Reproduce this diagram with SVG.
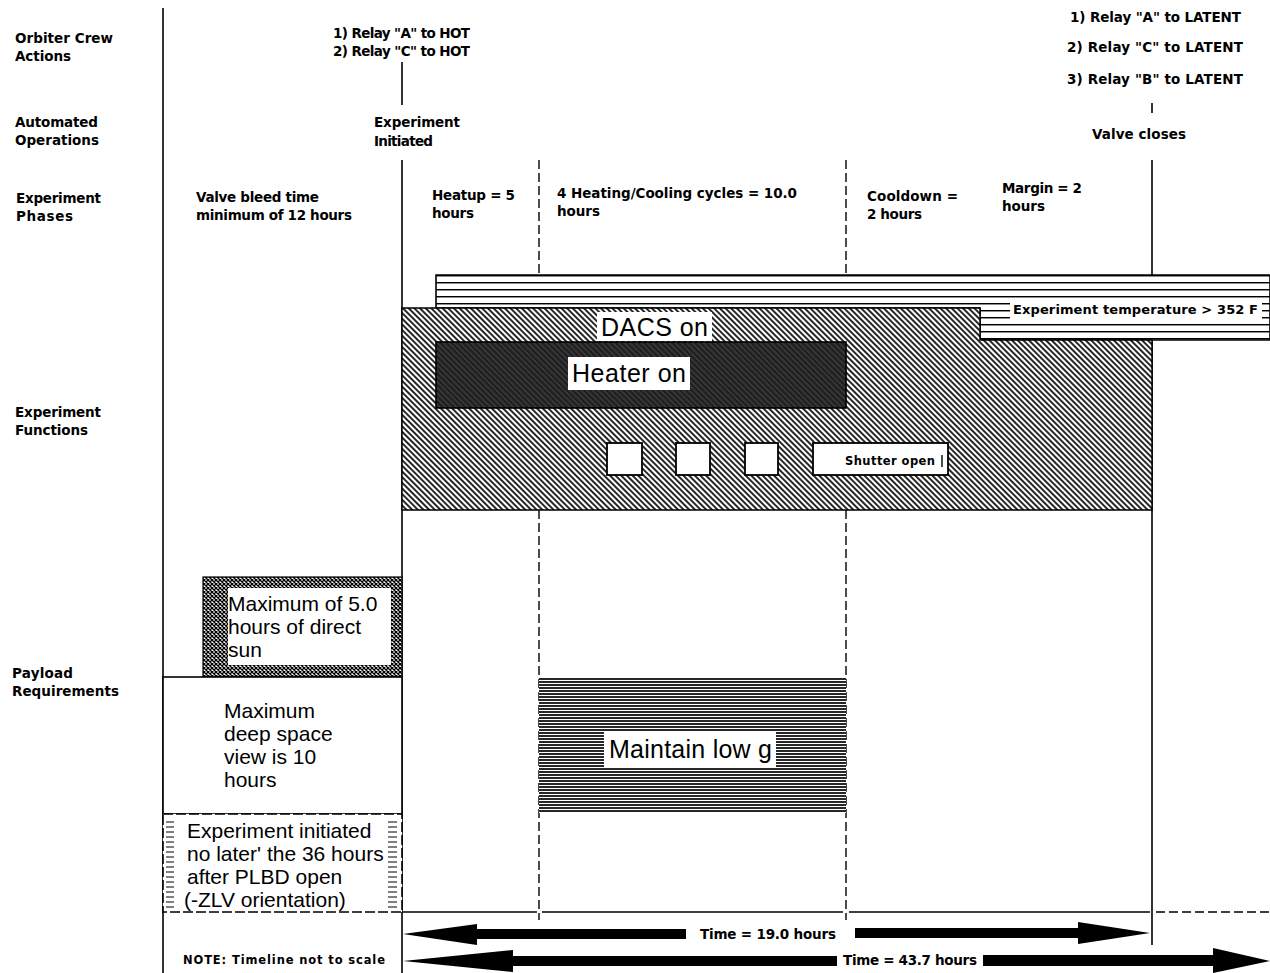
<svg xmlns="http://www.w3.org/2000/svg" width="1270" height="973" viewBox="0 0 1270 973">
<style>
.lbl{font-family:"DejaVu Sans","Liberation Sans",Arial,sans-serif;font-weight:bold;font-size:13.5px;fill:#000}
.sm{font-family:"DejaVu Sans","Liberation Sans",Arial,sans-serif;font-weight:bold;font-size:13.5px;fill:#000}
.big{font-family:"Liberation Sans",Arial,sans-serif;font-size:25px;fill:#000}
.mid{font-family:"Liberation Sans",Arial,sans-serif;font-size:21px;fill:#000}
.ln{stroke:#000;stroke-width:1.6;fill:none}
.dash{stroke:#000;stroke-width:1.4;fill:none;stroke-dasharray:9 4}
</style>
<defs>
<pattern id="diag" patternUnits="userSpaceOnUse" width="4" height="4" patternTransform="rotate(45)"><rect width="4" height="4" fill="#fff"/><line x1="0" y1="1" x2="4" y2="1" stroke="#000" stroke-width="1.7"/></pattern>
<pattern id="dark" patternUnits="userSpaceOnUse" width="4" height="4" patternTransform="rotate(45)"><rect width="4" height="4" fill="#1e1e1e"/><line x1="0" y1="1" x2="4" y2="1" stroke="#555" stroke-width="0.9"/></pattern>
<pattern id="hstripe" patternUnits="userSpaceOnUse" x="0" y="275" width="10" height="7"><rect width="10" height="7" fill="#fff"/><line x1="0" y1="0.7" x2="10" y2="0.7" stroke="#000" stroke-width="1.5"/></pattern>
<pattern id="dense" patternUnits="userSpaceOnUse" width="10" height="3"><rect width="10" height="3" fill="#fff"/><line x1="0" y1="1" x2="10" y2="1" stroke="#000" stroke-width="1.7"/></pattern>
<pattern id="check" patternUnits="userSpaceOnUse" width="4" height="4"><rect width="4" height="4" fill="#fff"/><path d="M0 0L4 4M4 0L0 4" stroke="#000" stroke-width="1.3"/></pattern>
<pattern id="edge" patternUnits="userSpaceOnUse" width="8" height="5"><line x1="0" y1="2" x2="8" y2="2" stroke="#000" stroke-width="1"/></pattern>
</defs>

<g id="row-labels">
<text class="lbl" x="15" y="43" textLength="98" lengthAdjust="spacing">Orbiter Crew</text>
<text class="lbl" x="15" y="61" textLength="56" lengthAdjust="spacing">Actions</text>
<text class="lbl" x="15" y="127" textLength="83" lengthAdjust="spacing">Automated</text>
<text class="lbl" x="15" y="145" textLength="84" lengthAdjust="spacing">Operations</text>
<text class="lbl" x="16" y="203" textLength="85" lengthAdjust="spacing">Experiment</text>
<text class="lbl" x="16" y="221" textLength="57" lengthAdjust="spacing">Phases</text>
<text class="lbl" x="15" y="417" textLength="86" lengthAdjust="spacing">Experiment</text>
<text class="lbl" x="15" y="435" textLength="73" lengthAdjust="spacing">Functions</text>
<text class="lbl" x="12" y="678" textLength="61" lengthAdjust="spacing">Payload</text>
<text class="lbl" x="12" y="696" textLength="107" lengthAdjust="spacing">Requirements</text>
</g>

<g id="crew-actions">
<text class="lbl" x="333" y="38" textLength="137" lengthAdjust="spacing">1) Relay "A" to HOT</text>
<text class="lbl" x="333" y="56" textLength="137" lengthAdjust="spacing">2) Relay "C" to HOT</text>
<text class="sm" x="1070" y="22" textLength="171" lengthAdjust="spacing">1) Relay "A" to LATENT</text>
<text class="sm" x="1067" y="52" textLength="176" lengthAdjust="spacing">2) Relay "C" to LATENT</text>
<text class="sm" x="1067" y="84" textLength="176" lengthAdjust="spacing">3) Relay "B" to LATENT</text>
</g>

<g id="automated">
<text class="lbl" x="374" y="127" textLength="86" lengthAdjust="spacing">Experiment</text>
<text class="lbl" x="374" y="146" textLength="59" lengthAdjust="spacing">Initiated</text>
<text class="lbl" x="1092" y="139" textLength="94" lengthAdjust="spacing">Valve closes</text>
</g>

<g id="phases">
<text class="lbl" x="196" y="202" textLength="123" lengthAdjust="spacing">Valve bleed time</text>
<text class="lbl" x="196" y="220" textLength="156" lengthAdjust="spacing">minimum of 12 hours</text>
<text class="lbl" x="432" y="200" textLength="83" lengthAdjust="spacing">Heatup = 5</text>
<text class="lbl" x="432" y="218" textLength="42" lengthAdjust="spacing">hours</text>
<text class="lbl" x="557" y="198" textLength="240" lengthAdjust="spacing">4 Heating/Cooling cycles = 10.0</text>
<text class="lbl" x="557" y="216" textLength="43" lengthAdjust="spacing">hours</text>
<text class="lbl" x="867" y="201" textLength="91" lengthAdjust="spacing">Cooldown =</text>
<text class="lbl" x="867" y="219" textLength="55" lengthAdjust="spacing">2 hours</text>
<text class="lbl" x="1002" y="193" textLength="80" lengthAdjust="spacing">Margin = 2</text>
<text class="lbl" x="1002" y="211" textLength="43" lengthAdjust="spacing">hours</text>
</g>

<g id="connectors">
<line class="ln" x1="163" y1="8" x2="163" y2="973"/>
<line class="ln" x1="402" y1="62" x2="402" y2="105"/>
<line class="ln" x1="402" y1="160" x2="402" y2="973"/>
<line class="dash" x1="539" y1="160" x2="539" y2="275"/>
<line class="dash" x1="539" y1="510" x2="539" y2="920"/>
<line class="dash" x1="846" y1="160" x2="846" y2="275"/>
<line class="dash" x1="846" y1="510" x2="846" y2="920"/>
<line class="ln" x1="1152" y1="160" x2="1152" y2="275"/>
<line class="ln" x1="1152" y1="340" x2="1152" y2="945"/>
<line class="ln" x1="1152" y1="103" x2="1152" y2="113"/>
<line class="ln" x1="402" y1="912" x2="537" y2="912"/>
<line class="ln" x1="542" y1="912" x2="843" y2="912"/>
<line class="ln" x1="849" y1="912" x2="1150" y2="912"/>
<line class="dash" x1="1156" y1="912" x2="1270" y2="912"/>
</g>

<g id="temperature">
<path d="M436 275H1270V340H980V308H436Z" fill="url(#hstripe)" stroke="#000" stroke-width="1.6"/>
<rect x="1010" y="300" width="252" height="19" fill="#fff"/>
<text class="sm" x="1013" y="314" style="font-size:13px" textLength="245" lengthAdjust="spacing">Experiment temperature  &gt; 352 F</text>
</g>

<g id="dacs">
<path d="M402 308H980V340H1152V510H402Z" fill="url(#diag)" stroke="#000" stroke-width="1.4"/>
<rect x="597" y="312" width="115" height="29" fill="#fff"/>
<text class="big" x="601" y="336" textLength="107" lengthAdjust="spacing">DACS on</text>
</g>

<g id="heater">
<rect x="436" y="342" width="410" height="66" fill="url(#dark)" stroke="#000" stroke-width="1.6"/>
<rect x="568" y="357" width="122" height="33" fill="#fff"/>
<text class="big" x="572" y="382" textLength="114" lengthAdjust="spacing">Heater on</text>
</g>

<g id="shutter">
<rect x="607" y="443" width="35" height="32" fill="#fff" stroke="#000" stroke-width="1.8"/>
<rect x="676" y="443" width="34" height="32" fill="#fff" stroke="#000" stroke-width="1.8"/>
<rect x="745" y="443" width="33" height="32" fill="#fff" stroke="#000" stroke-width="1.8"/>
<rect x="813" y="443" width="135" height="32" fill="#fff" stroke="#000" stroke-width="1.8"/>
<text class="sm" x="845" y="465" style="font-size:11.5px" textLength="90" lengthAdjust="spacing">Shutter open</text>
<line x1="942" y1="455" x2="942" y2="467" stroke="#000" stroke-width="1.4"/>
</g>

<g id="direct-sun">
<rect x="203" y="577" width="199" height="100" fill="url(#check)" stroke="#000" stroke-width="1.2"/>
<rect x="228" y="588" width="163" height="77" fill="#fff"/>
<text class="mid" x="228" y="611">Maximum of 5.0</text>
<text class="mid" x="228" y="634">hours of direct</text>
<text class="mid" x="228" y="657">sun</text>
</g>

<g id="deep-space">
<rect x="163" y="677" width="239" height="137" fill="#fff" stroke="#000" stroke-width="1.6"/>
<text class="mid" x="224" y="718">Maximum</text>
<text class="mid" x="224" y="741">deep space</text>
<text class="mid" x="224" y="764">view is 10</text>
<text class="mid" x="224" y="787">hours</text>
</g>

<g id="initiated-limit">
<rect x="163" y="814" width="239" height="98" fill="#fff" stroke="#000" stroke-width="1.6" stroke-dasharray="10 3"/>
<rect x="166" y="820" width="8" height="88" fill="url(#edge)"/>
<rect x="388" y="820" width="9" height="88" fill="url(#edge)"/>
<text class="mid" x="187" y="838">Experiment initiated</text>
<text class="mid" x="187" y="861">no later' the 36 hours</text>
<text class="mid" x="187" y="884">after PLBD open</text>
<text class="mid" x="184" y="907">(-ZLV orientation)</text>
</g>

<g id="low-g">
<rect x="539" y="677" width="307" height="136" fill="url(#dense)"/>
<rect x="604" y="732" width="172" height="35" fill="#fff"/>
<text class="big" x="609" y="758" textLength="163" lengthAdjust="spacing">Maintain low g</text>
</g>

<g id="time-19">
<path d="M403 934L477 924V929H686V939H477V945Z" fill="#000"/>
<path d="M855 928H1078V922L1150 933L1078 944V938H855Z" fill="#000"/>
<text class="sm" x="700" y="939" textLength="136" lengthAdjust="spacing">Time = 19.0 hours</text>
</g>

<g id="time-43">
<path d="M403 961L513 950V956H837V966H513V972Z" fill="#000"/>
<path d="M983 955H1213V948L1270 961L1213 973V966H983Z" fill="#000"/>
<text class="sm" x="843" y="965" textLength="134" lengthAdjust="spacing">Time = 43.7 hours</text>
</g>

<g id="note">
<text class="sm" x="183" y="964" style="font-size:11.5px" textLength="202" lengthAdjust="spacing">NOTE:  Timeline not to scale</text>
</g>
</svg>
